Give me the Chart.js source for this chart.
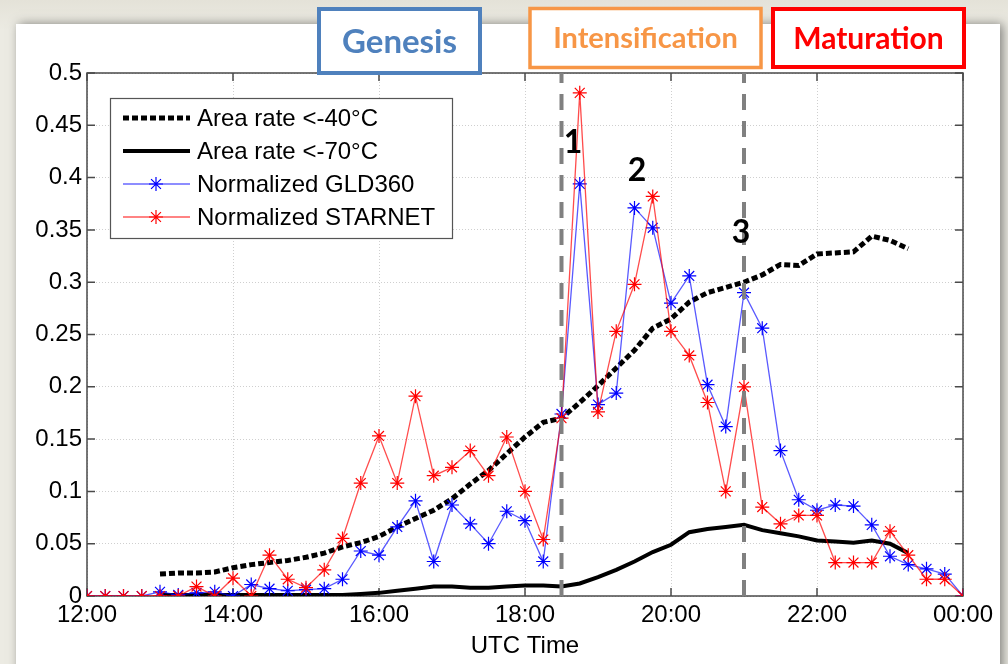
<!DOCTYPE html>
<html>
<head>
<meta charset="utf-8">
<script src="https://cdn.jsdelivr.net/npm/chart.js@4.4.1/dist/chart.umd.min.js"></script>
<style>
html,body{margin:0;padding:0;background:#e8e6dc;}
canvas{display:block;}
</style>
</head>
<body>
<canvas id="chart" width="1008" height="664"></canvas>
<script>
// sample times, every 15 minutes from 12:00 to 00:00 UTC
const times = [
  '12:00','12:15','12:30','12:45','13:00','13:15','13:30','13:45',
  '14:00','14:15','14:30','14:45','15:00','15:15','15:30','15:45',
  '16:00','16:15','16:30','16:45','17:00','17:15','17:30','17:45',
  '18:00','18:15','18:30','18:45','19:00','19:15','19:30','19:45',
  '20:00','20:15','20:30','20:45','21:00','21:15','21:30','21:45',
  '22:00','22:15','22:30','22:45','23:00','23:15','23:30','23:45',
  '00:00'
];
const tickLabels = ['12:00','14:00','16:00','18:00','20:00','22:00','00:00'];
const yTicks = [0,0.05,0.1,0.15,0.2,0.25,0.3,0.35,0.4,0.45,0.5];

const area40 = [
  null,null,null,null,0.021,0.022,0.022,0.023,
  0.027,0.030,0.032,0.034,0.037,0.041,0.047,0.051,
  0.057,0.066,0.074,0.082,0.093,0.107,0.120,0.136,
  0.152,0.166,0.170,0.185,0.201,0.218,0.235,0.256,
  0.265,0.281,0.290,0.295,0.300,0.307,0.317,0.316,
  0.327,0.328,0.329,0.344,0.340,0.332,null,null,
  null
];
const area70 = [
  null,null,null,null,0.001,0.001,0.001,0.001,
  0.001,0.001,0.001,0.001,0.001,0.001,0.001,0.002,
  0.003,0.005,0.007,0.009,0.009,0.008,0.008,0.009,
  0.010,0.010,0.009,0.012,0.018,0.025,0.033,0.042,
  0.049,0.061,0.064,0.066,0.068,0.063,0.060,0.057,
  0.053,0.052,0.051,0.053,0.050,0.041,null,null,
  null
];
const gld360 = [
  0,0,0,0,0.004,0.001,0.003,0.004,
  0.000,0.011,0.007,0.005,0.006,0.007,0.016,0.043,
  0.039,0.066,0.091,0.033,0.087,0.069,0.050,0.081,
  0.072,0.033,0.174,0.394,0.183,0.194,0.371,0.352,
  0.280,0.306,0.202,0.162,0.290,0.256,0.139,0.092,
  0.082,0.087,0.086,0.068,0.038,0.030,0.026,0.021,
  0
];
const starnet = [
  0,0,0,0,0,0,0.009,0,
  0.017,0,0.039,0.016,0.008,0.025,0.055,0.108,
  0.153,0.108,0.191,0.115,0.123,0.139,0.115,0.152,
  0.100,0.054,0.170,0.481,0.176,0.253,0.298,0.382,
  0.253,0.230,0.185,0.100,0.200,0.085,0.069,0.077,
  0.077,0.032,0.032,0.032,0.062,0.039,0.016,0.016,
  0
];
const phaseBounds = ['18:30','21:00'];

function toHours(t) {
  let [h, m] = t.split(':').map(Number);
  if (h < 12) h += 24;
  return h - 12 + m / 60;
}
function pts(arr) {
  return times.map((t, i) => ({x: toHours(t), y: arr[i]}));
}

const FONT = "'Liberation Sans', Arial, sans-serif";
const HEAD = "Lato, 'Open Sans', sans-serif";

const frame = {
  id: 'frame',
  beforeDraw(chart) {
    const ctx = chart.ctx;
    ctx.save();
    const g = ctx.createLinearGradient(0, 0, 0, 30);
    g.addColorStop(0, '#e4e2d8');
    g.addColorStop(1, '#ecebe3');
    ctx.fillStyle = g;
    ctx.fillRect(0, 0, chart.width, chart.height);
    ctx.shadowColor = 'rgba(0,0,0,0.45)';
    ctx.shadowBlur = 10;
    ctx.shadowOffsetX = 3;
    ctx.fillStyle = '#fff';
    ctx.fillRect(16, 24, 984, 660);
    ctx.restore();
  },
  beforeDatasetsDraw(chart) {
    const ctx = chart.ctx, a = chart.chartArea;
    const xs = chart.scales.x, ys = chart.scales.y;
    ctx.save();
    ctx.strokeStyle = '#4a4a4a';
    ctx.lineWidth = 1.5;
    ctx.strokeRect(a.left, a.top, a.right - a.left, a.bottom - a.top);
    ctx.beginPath();
    xs.ticks.forEach(t => {
      const px = xs.getPixelForValue(t.value);
      ctx.moveTo(px, a.bottom); ctx.lineTo(px, a.bottom - 8);
      ctx.moveTo(px, a.top); ctx.lineTo(px, a.top + 8);
    });
    ys.ticks.forEach(t => {
      const py = ys.getPixelForValue(t.value);
      ctx.moveTo(a.left, py); ctx.lineTo(a.left + 8, py);
      ctx.moveTo(a.right, py); ctx.lineTo(a.right - 8, py);
    });
    ctx.stroke();
    ctx.restore();
  },
  afterDraw(chart) {
    const ctx = chart.ctx;
    ctx.save();

    // legend
    const lx = 110, ly = 98, lw = 342, lh = 140;
    ctx.fillStyle = '#fff';
    ctx.fillRect(lx, ly, lw, lh);
    ctx.strokeStyle = '#555';
    ctx.lineWidth = 1.2;
    ctx.strokeRect(lx + 0.5, ly + 0.5, lw, lh);
    const rows = [
      {y: 118, text: 'Area rate <-40°C', color: '#000', width: 5, dash: [6, 3]},
      {y: 151, text: 'Area rate <-70°C', color: '#000', width: 4, dash: []},
      {y: 184, text: 'Normalized GLD360', color: 'rgba(0,0,255,0.6)', width: 1.3, dash: [], mark: '#0000ff'},
      {y: 217, text: 'Normalized STARNET', color: 'rgba(255,0,0,0.65)', width: 1.3, dash: [], mark: '#ff0000'}
    ];
    rows.forEach(r => {
      ctx.beginPath();
      ctx.setLineDash(r.dash);
      ctx.strokeStyle = r.color;
      ctx.lineWidth = r.width;
      ctx.moveTo(123, r.y); ctx.lineTo(190, r.y);
      ctx.stroke();
      ctx.setLineDash([]);
      if (r.mark) {
        ctx.strokeStyle = r.mark;
        ctx.lineWidth = 1.2;
        Chart.helpers.drawPoint(ctx, {pointStyle: 'star', radius: 7, borderWidth: 1.2, rotation: 0}, 156, r.y);
      }
      ctx.fillStyle = '#000';
      ctx.font = '24px ' + FONT;
      ctx.textBaseline = 'middle';
      ctx.textAlign = 'left';
      ctx.fillText(r.text, 197, r.y + 1);
    });

    // phase headers
    const heads = [
      {text: 'Genesis', x: 319, y: 9, w: 161, h: 64, color: '#4f81bd', lw: 4, size: 33},
      {text: 'Intensification', x: 530, y: 8.5, w: 231, h: 59, color: '#f79646', lw: 3.5, size: 29},
      {text: 'Maturation', x: 773, y: 9, w: 191, h: 58, color: '#ff0000', lw: 4, size: 30}
    ];
    heads.forEach(hd => {
      ctx.fillStyle = '#fff';
      ctx.fillRect(hd.x, hd.y, hd.w, hd.h);
      ctx.strokeStyle = hd.color;
      ctx.lineWidth = hd.lw;
      ctx.strokeRect(hd.x, hd.y, hd.w, hd.h);
      ctx.fillStyle = hd.color;
      ctx.font = 'bold ' + hd.size + 'px ' + HEAD;
      ctx.textAlign = 'center';
      ctx.textBaseline = 'middle';
      ctx.fillText(hd.text, hd.x + hd.w / 2, hd.y + hd.h / 2 + 1);
    });

    // event numbers
    ctx.fillStyle = '#000';
    ctx.font = 'bold 32px ' + HEAD;
    ctx.textAlign = 'center';
    ctx.textBaseline = 'middle';
    ctx.fillText('1', 573, 143);
    ctx.fillText('2', 637, 171);
    ctx.fillText('3', 741, 233);
    ctx.restore();
  }
};

const phaseSets = phaseBounds.map(t => ({
  data: [{x: toHours(t), y: 0}, {x: toHours(t), y: 0.5}],
  borderColor: '#808080',
  borderWidth: 4,
  borderDash: [16, 11],
  pointRadius: 0,
  order: 0
}));

new Chart(document.getElementById('chart'), {
  type: 'line',
  data: {
    datasets: [
      {
        label: 'Normalized STARNET',
        data: pts(starnet),
        borderColor: 'rgba(255,0,0,0.7)',
        borderWidth: 1.3,
        pointStyle: 'star',
        pointRadius: 7,
        pointBorderColor: '#ff0000',
        pointBorderWidth: 1.2,
        order: 1
      },
      {
        label: 'Normalized GLD360',
        data: pts(gld360),
        borderColor: 'rgba(0,0,255,0.65)',
        borderWidth: 1.3,
        pointStyle: 'star',
        pointRadius: 7,
        pointBorderColor: '#0000ff',
        pointBorderWidth: 1.2,
        order: 2
      },
      {
        label: 'Area rate <-70°C',
        data: pts(area70),
        borderColor: '#000',
        borderWidth: 4,
        pointRadius: 0,
        order: 3
      },
      {
        label: 'Area rate <-40°C',
        data: pts(area40),
        borderColor: '#000',
        borderWidth: 5,
        borderDash: [6, 3],
        pointRadius: 0,
        order: 4
      },
      ...phaseSets
    ]
  },
  options: {
    responsive: false,
    animation: false,
    spanGaps: false,
    layout: {padding: {top: 73, right: 45, bottom: 0, left: 0}},
    plugins: {legend: {display: false}, tooltip: {enabled: false}},
    scales: {
      x: {
        type: 'linear',
        min: 0,
        max: 12,
        afterFit(s) { s.height = 68; },
        afterBuildTicks(s) { s.ticks = tickLabels.map((l, i) => ({value: i * 2})); },
        ticks: {
          callback: (v, i) => tickLabels[i],
          color: '#000',
          font: {family: FONT, size: 24},
          padding: 5,
          maxRotation: 0
        },
        grid: {color: '#cfcfcf', drawTicks: false},
        border: {display: false, dash: [1, 2]},
        title: {
          display: true,
          text: 'UTC Time',
          color: '#000',
          font: {family: FONT, size: 24},
          padding: {top: 0, bottom: 3}
        }
      },
      y: {
        min: 0,
        max: 0.5,
        afterFit(s) { s.width = 87; },
        afterBuildTicks(s) { s.ticks = yTicks.map(v => ({value: v})); },
        ticks: {
          callback: v => String(+v.toFixed(2)),
          color: '#000',
          font: {family: FONT, size: 24},
          padding: 5
        },
        grid: {color: '#cfcfcf', drawTicks: false},
        border: {display: false, dash: [1, 2]}
      }
    }
  },
  plugins: [frame]
});
</script>
</body>
</html>
